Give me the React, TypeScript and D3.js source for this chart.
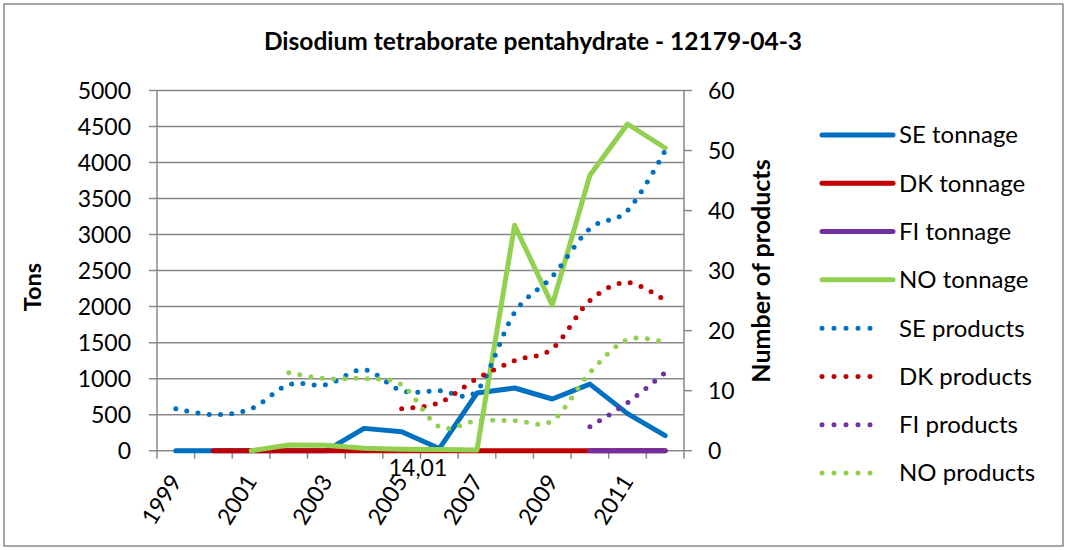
import * as d3 from 'd3';

const YEARS = ['1999', '2000', '2001', '2002', '2003', '2004', '2005', '2006', '2007', '2008', '2009', '2010', '2011', '2012'];

// tonnage, left axis (null = no data that year)
const SE_TONNAGE = [0, 0, 0, 0, 0, 310, 263, 30, 800, 870, 718, 924, 515, 208];
const DK_TONNAGE = [null, 0, 0, 0, 0, 0, 0, 0, 0, 0, 0, 0, 0, 0];
const FI_TONNAGE = [null, null, null, null, null, null, null, null, null, null, null, 0, 0, 0];
const NO_TONNAGE = [null, null, 0, 80, 75, 33, 20, 15, 10, 3130, 2020, 3824, 4535, 4202];

// number of products, right axis
const SE_PRODUCTS = [7, 6, 7, 11, 11, 13.5, 10, 10, 10, 23, 29, 37, 40, 50];
const DK_PRODUCTS = [null, null, null, null, null, null, 7, 8, 12, 15, 17, 25, 28, 25];
const FI_PRODUCTS = [null, null, null, null, null, null, null, null, null, null, null, 4, 8, 13];
const NO_PRODUCTS = [null, null, null, 13, 12, 12, 11, 4, 5, 5, 5, 13, 18.5, 18];

const LEFT_TICKS = [0, 500, 1000, 1500, 2000, 2500, 3000, 3500, 4000, 4500, 5000];
const RIGHT_TICKS = [0, 10, 20, 30, 40, 50, 60];
const LABEL_YEARS = ['1999', '2001', '2003', '2005', '2007', '2009', '2011'];

const TITLE = 'Disodium tetraborate pentahydrate - 12179-04-3';
const STRAY_LABEL = '14,01';

const BLUE = '#0070C0';
const RED = '#C00000';
const PURPLE = '#7030A0';
const GREEN = '#92D050';
const GRID = '#898989';
const FONT = 'Lato, "Open Sans", sans-serif';

type Series = { name: string; values: (number | null)[]; color: string; dotted: boolean };

const SERIES: Series[] = [
  { name: 'SE tonnage', values: SE_TONNAGE, color: BLUE, dotted: false },
  { name: 'DK tonnage', values: DK_TONNAGE, color: RED, dotted: false },
  { name: 'FI tonnage', values: FI_TONNAGE, color: PURPLE, dotted: false },
  { name: 'NO tonnage', values: NO_TONNAGE, color: GREEN, dotted: false },
  { name: 'SE products', values: SE_PRODUCTS, color: BLUE, dotted: true },
  { name: 'DK products', values: DK_PRODUCTS, color: RED, dotted: true },
  { name: 'FI products', values: FI_PRODUCTS, color: PURPLE, dotted: true },
  { name: 'NO products', values: NO_PRODUCTS, color: GREEN, dotted: true },
];

const W = 1067;
const H = 550;
const PLOT = { left: 157, right: 684, top: 90.5, bottom: 450.7 };

export default function App() {
  const x = d3.scaleBand<string>().domain(YEARS).range([PLOT.left, PLOT.right]).paddingInner(0).paddingOuter(0);
  const yTons = d3.scaleLinear().domain([0, 5000]).range([PLOT.bottom, PLOT.top]);
  const yProd = d3.scaleLinear().domain([0, 60]).range([PLOT.bottom, PLOT.top]);
  const cx = (year: string) => (x(year) ?? 0) + x.bandwidth() / 2;

  const tonLine = d3
    .line<number | null>()
    .defined((d) => d !== null)
    .x((_, i) => cx(YEARS[i]))
    .y((d) => yTons(d as number))
    .curve(d3.curveLinear);

  // products series are smoothed, like Excel's "smoothed line"
  const prodLine = d3
    .line<number | null>()
    .defined((d) => d !== null)
    .x((_, i) => cx(YEARS[i]))
    .y((d) => yProd(d as number))
    .curve(d3.curveCardinal.tension(0));

  const boundaries = YEARS.map((y) => x(y) ?? 0).concat([PLOT.right]);
  const legendY = d3.scalePoint<string>().domain(SERIES.map((s) => s.name)).range([135, 473]);

  return (
    <svg
      width={W}
      height={H}
      style={{ position: 'absolute', left: 0, top: 0, background: '#fff' }}
      fontFamily={FONT}
    >
      <rect x={4} y={4} width={1059} height={542} fill="#fff" stroke={GRID} strokeWidth={1.5} />

      <text x={533} y={50} textAnchor="middle" fontSize={24.5} fontWeight={700} fill="#000">
        {TITLE}
      </text>

      {/* gridlines + left axis */}
      {LEFT_TICKS.map((t) => (
        <g key={t}>
          <line x1={PLOT.left - 8} x2={PLOT.right} y1={yTons(t)} y2={yTons(t)} stroke={GRID} strokeWidth={1.5} />
          <text x={131} y={yTons(t)} dy="0.35em" textAnchor="end" fontSize={23} fill="#000">
            {t}
          </text>
        </g>
      ))}
      <line x1={PLOT.left} x2={PLOT.left} y1={PLOT.top} y2={PLOT.bottom} stroke={GRID} strokeWidth={1.5} />

      {/* right axis */}
      <line x1={PLOT.right} x2={PLOT.right} y1={PLOT.top} y2={PLOT.bottom} stroke={GRID} strokeWidth={1.5} />
      {RIGHT_TICKS.map((t) => (
        <g key={t}>
          <line x1={PLOT.right} x2={PLOT.right + 8} y1={yProd(t)} y2={yProd(t)} stroke={GRID} strokeWidth={1.5} />
          <text x={708} y={yProd(t)} dy="0.35em" textAnchor="start" fontSize={23} fill="#000">
            {t}
          </text>
        </g>
      ))}

      {/* category ticks */}
      {boundaries.map((b, i) => (
        <line key={i} x1={b} x2={b} y1={PLOT.bottom} y2={PLOT.bottom + 8} stroke={GRID} strokeWidth={1.5} />
      ))}
      {LABEL_YEARS.map((y) => (
        <text
          key={y}
          transform={`translate(${cx(y)},${477}) rotate(-58)`}
          textAnchor="end"
          dy="0.35em"
          fontSize={23}
          fill="#000"
        >
          {y}
        </text>
      ))}

      {/* series */}
      {SERIES.map((s) => (
        <path
          key={s.name}
          d={(s.dotted ? prodLine : tonLine)(s.values) ?? ''}
          fill="none"
          stroke={s.color}
          strokeWidth={5}
          strokeLinecap="round"
          strokeLinejoin="round"
          strokeDasharray={s.dotted ? '0 11.3' : undefined}
        />
      ))}

      <text x={418} y={468} dy="0.35em" textAnchor="middle" fontSize={23} fill="#000">
        {STRAY_LABEL}
      </text>

      {/* axis titles */}
      <text transform="translate(33,287) rotate(-90)" textAnchor="middle" dy="0.35em" fontSize={23.5} fontWeight={700}>
        Tons
      </text>
      <text transform="translate(761,271) rotate(-90)" textAnchor="middle" dy="0.35em" fontSize={25} fontWeight={700}>
        Number of products
      </text>

      {/* legend */}
      {SERIES.map((s) => {
        const ly = legendY(s.name) ?? 0;
        return (
          <g key={s.name}>
            <line
              x1={822}
              x2={s.dotted ? 882 : 893}
              y1={ly}
              y2={ly}
              stroke={s.color}
              strokeWidth={5}
              strokeLinecap="round"
              strokeDasharray={s.dotted ? '0 12' : undefined}
            />
            <text x={899} y={ly} dy="0.35em" fontSize={24} fill="#000">
              {s.name}
            </text>
          </g>
        );
      })}
    </svg>
  );
}
